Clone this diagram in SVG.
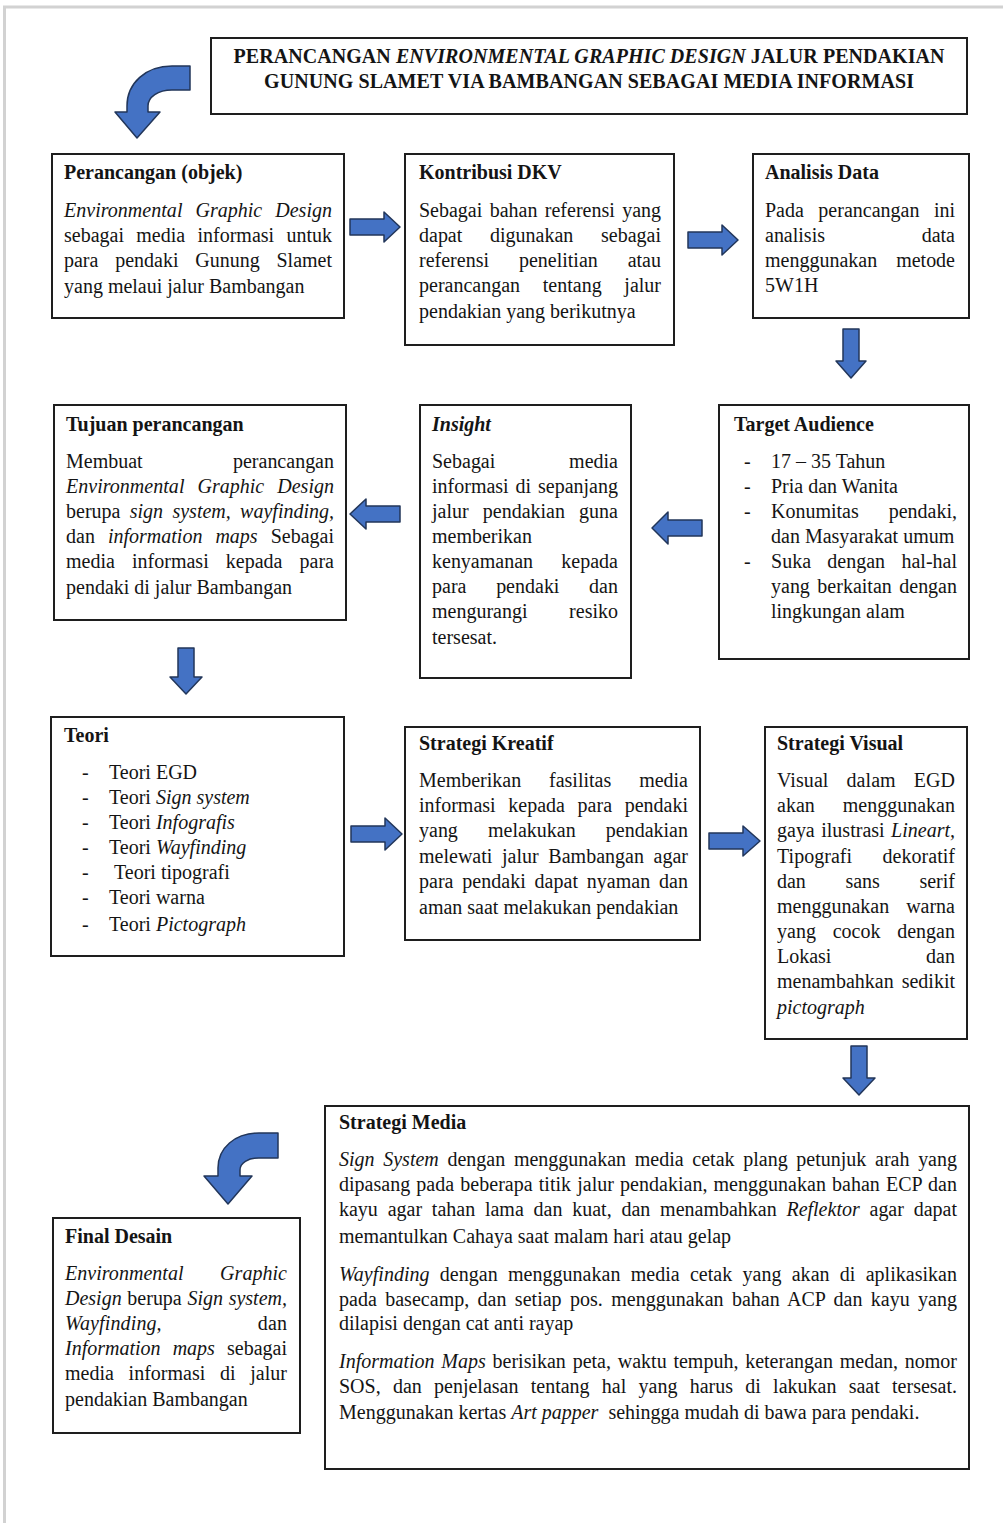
<svg xmlns="http://www.w3.org/2000/svg" width="1003" height="1523" viewBox="0 0 1003 1523">
<style>
.bg{fill:#fff}
.page{fill:none;stroke:#d2d2d2;stroke-width:3}
.box{fill:#fff;stroke:#1e1e1e;stroke-width:2}
text{font-family:"Liberation Serif","Times New Roman",serif;font-size:20px;fill:#141414}
.h{font-weight:bold}
.i{font-style:italic}
.arr{fill:#4472c4;stroke:#22365a;stroke-width:1.5;stroke-linejoin:round}
</style>
<rect class="bg" x="0" y="0" width="1003" height="1523"/>
<path class="page" d="M4.5,1523 V7 H1003"/>

<g id="title">
<rect class="box" x="211" y="38" width="756" height="76"/>
<text class="h" x="589" y="63" text-anchor="middle" textLength="711" lengthAdjust="spacing">PERANCANGAN <tspan class="i">ENVIRONMENTAL GRAPHIC DESIGN</tspan> JALUR PENDAKIAN</text>
<text class="h" x="589" y="88" text-anchor="middle" textLength="650" lengthAdjust="spacing">GUNUNG SLAMET VIA BAMBANGAN SEBAGAI MEDIA INFORMASI</text>
</g>

<g id="perancangan">
<rect class="box" x="52" y="154" width="292" height="164"/>
<text class="h" x="64" y="179">Perancangan (objek)</text>
<text x="64" y="217" class="i" word-spacing="7.9" textLength="268" lengthAdjust="spacing">Environmental Graphic Design</text>
<text x="64" y="242" word-spacing="7.3" textLength="268" lengthAdjust="spacing">sebagai media informasi untuk</text>
<text x="64" y="267" word-spacing="11.8" textLength="268" lengthAdjust="spacing">para pendaki Gunung Slamet</text>
<text x="64" y="293">yang melaui jalur Bambangan</text>
</g>

<g id="kontribusi">
<rect class="box" x="405" y="154" width="269" height="191"/>
<text class="h" x="419" y="179">Kontribusi DKV</text>
<text x="419" y="217" word-spacing="2.4" textLength="242" lengthAdjust="spacing">Sebagai bahan referensi yang</text>
<text x="419" y="242" word-spacing="22.7" textLength="242" lengthAdjust="spacing">dapat digunakan sebagai</text>
<text x="419" y="267" word-spacing="24.9" textLength="242" lengthAdjust="spacing">referensi penelitian atau</text>
<text x="419" y="292" word-spacing="17.7" textLength="242" lengthAdjust="spacing">perancangan tentang jalur</text>
<text x="419" y="318">pendakian yang berikutnya</text>
</g>

<g id="analisis">
<rect class="box" x="753" y="154" width="216" height="164"/>
<text class="h" x="765" y="179">Analisis Data</text>
<text x="765" y="217" word-spacing="9.5" textLength="190" lengthAdjust="spacing">Pada perancangan ini</text>
<text x="765" y="242" word-spacing="91.7" textLength="190" lengthAdjust="spacing">analisis data</text>
<text x="765" y="267" word-spacing="14" textLength="190" lengthAdjust="spacing">menggunakan metode</text>
<text x="765" y="292">5W1H</text>
</g>

<g id="tujuan">
<rect class="box" x="54" y="405" width="292" height="215"/>
<text class="h" x="66" y="431">Tujuan perancangan</text>
<text x="66" y="468" word-spacing="85.3" textLength="268" lengthAdjust="spacing">Membuat perancangan</text>
<text x="66" y="493" class="i" word-spacing="7.9" textLength="268" lengthAdjust="spacing">Environmental Graphic Design</text>
<text x="66" y="518" word-spacing="4.3" textLength="268" lengthAdjust="spacing">berupa <tspan class="i">sign system, wayfinding,</tspan></text>
<text x="66" y="543" word-spacing="8" textLength="268" lengthAdjust="spacing">dan <tspan class="i">information maps</tspan> Sebagai</text>
<text x="66" y="568" word-spacing="12.1" textLength="268" lengthAdjust="spacing">media informasi kepada para</text>
<text x="66" y="594">pendaki di jalur Bambangan</text>
</g>

<g id="insight">
<rect class="box" x="420" y="405" width="211" height="273"/>
<text class="h i" x="432" y="431">Insight</text>
<text x="432" y="468" word-spacing="68.8" textLength="186" lengthAdjust="spacing">Sebagai media</text>
<text x="432" y="493" word-spacing="1.9" textLength="186" lengthAdjust="spacing">informasi di sepanjang</text>
<text x="432" y="518" word-spacing="9.1" textLength="186" lengthAdjust="spacing">jalur pendakian guna</text>
<text x="432" y="543">memberikan</text>
<text x="432" y="568" word-spacing="23.3" textLength="186" lengthAdjust="spacing">kenyamanan kepada</text>
<text x="432" y="593" word-spacing="24.7" textLength="186" lengthAdjust="spacing">para pendaki dan</text>
<text x="432" y="618" word-spacing="36.6" textLength="186" lengthAdjust="spacing">mengurangi resiko</text>
<text x="432" y="644">tersesat.</text>
</g>

<g id="target">
<rect class="box" x="719" y="405" width="250" height="254"/>
<text class="h" x="734" y="431">Target Audience</text>
<text x="744" y="468">-</text>
<text x="771" y="468">17 – 35 Tahun</text>
<text x="744" y="493">-</text>
<text x="771" y="493">Pria dan Wanita</text>
<text x="744" y="518">-</text>
<text x="771" y="518" word-spacing="24.9" textLength="186" lengthAdjust="spacing">Konumitas pendaki,</text>
<text x="771" y="543">dan Masyarakat umum</text>
<text x="744" y="568">-</text>
<text x="771" y="568" word-spacing="11.3" textLength="186" lengthAdjust="spacing">Suka dengan hal-hal</text>
<text x="771" y="593" word-spacing="2.5" textLength="186" lengthAdjust="spacing">yang berkaitan dengan</text>
<text x="771" y="618">lingkungan alam</text>
</g>

<g id="teori">
<rect class="box" x="51" y="717" width="293" height="239"/>
<text class="h" x="64" y="742">Teori</text>
<text x="82" y="779">-</text>
<text x="109" y="779">Teori EGD</text>
<text x="82" y="804">-</text>
<text x="109" y="804">Teori <tspan class="i">Sign system</tspan></text>
<text x="82" y="829">-</text>
<text x="109" y="829">Teori <tspan class="i">Infografis</tspan></text>
<text x="82" y="854">-</text>
<text x="109" y="854">Teori <tspan class="i">Wayfinding</tspan></text>
<text x="82" y="879">-</text>
<text x="114" y="879">Teori tipografi</text>
<text x="82" y="904">-</text>
<text x="109" y="904">Teori warna</text>
<text x="82" y="931">-</text>
<text x="109" y="931">Teori <tspan class="i">Pictograph</tspan></text>
</g>

<g id="strategi-kreatif">
<rect class="box" x="405" y="727" width="295" height="213"/>
<text class="h" x="419" y="750">Strategi Kreatif</text>
<text x="419" y="787" word-spacing="22.9" textLength="269" lengthAdjust="spacing">Memberikan fasilitas media</text>
<text x="419" y="812" word-spacing="7.7" textLength="269" lengthAdjust="spacing">informasi kepada para pendaki</text>
<text x="419" y="837" word-spacing="25.1" textLength="269" lengthAdjust="spacing">yang melakukan pendakian</text>
<text x="419" y="863" word-spacing="4.7" textLength="269" lengthAdjust="spacing">melewati jalur Bambangan agar</text>
<text x="419" y="888" word-spacing="3.9" textLength="269" lengthAdjust="spacing">para pendaki dapat nyaman dan</text>
<text x="419" y="914">aman saat melakukan pendakian</text>
</g>

<g id="strategi-visual">
<rect class="box" x="765" y="727" width="202" height="312"/>
<text class="h" x="777" y="750">Strategi Visual</text>
<text x="777" y="787" word-spacing="12.9" textLength="178" lengthAdjust="spacing">Visual dalam EGD</text>
<text x="777" y="812" word-spacing="23" textLength="178" lengthAdjust="spacing">akan menggunakan</text>
<text x="777" y="837" word-spacing="1.5" textLength="178" lengthAdjust="spacing">gaya ilustrasi <tspan class="i">Lineart,</tspan></text>
<text x="777" y="863" word-spacing="25.3" textLength="178" lengthAdjust="spacing">Tipografi dekoratif</text>
<text x="777" y="888" word-spacing="34.6" textLength="178" lengthAdjust="spacing">dan sans serif</text>
<text x="777" y="913" word-spacing="12" textLength="178" lengthAdjust="spacing">menggunakan warna</text>
<text x="777" y="938" word-spacing="11.8" textLength="178" lengthAdjust="spacing">yang cocok dengan</text>
<text x="777" y="963" word-spacing="89.7" textLength="178" lengthAdjust="spacing">Lokasi dan</text>
<text x="777" y="988" word-spacing="3" textLength="178" lengthAdjust="spacing">menambahkan sedikit</text>
<text x="777" y="1014" class="i">pictograph</text>
</g>

<g id="strategi-media">
<rect class="box" x="325" y="1106" width="644" height="363"/>
<text class="h" x="339" y="1129">Strategi Media</text>
<text x="339" y="1166" word-spacing="3.7" textLength="618" lengthAdjust="spacing"><tspan class="i">Sign System</tspan> dengan menggunakan media cetak plang petunjuk arah yang</text>
<text x="339" y="1191" word-spacing="1.1" textLength="618" lengthAdjust="spacing">dipasang pada beberapa titik jalur pendakian, menggunakan bahan ECP dan</text>
<text x="339" y="1216" word-spacing="4.8" textLength="618" lengthAdjust="spacing">kayu agar tahan lama dan kuat, dan menambahkan <tspan class="i">Reflektor</tspan> agar dapat</text>
<text x="339" y="1243">memantulkan Cahaya saat malam hari atau gelap</text>
<text x="339" y="1281" word-spacing="5.2" textLength="618" lengthAdjust="spacing"><tspan class="i">Wayfinding</tspan> dengan menggunakan media cetak yang akan di aplikasikan</text>
<text x="339" y="1306" word-spacing="3.3" textLength="618" lengthAdjust="spacing">pada basecamp, dan setiap pos. menggunakan bahan ACP dan kayu yang</text>
<text x="339" y="1330">dilapisi dengan cat anti rayap</text>
<text x="339" y="1368" word-spacing="1.8" textLength="618" lengthAdjust="spacing"><tspan class="i">Information Maps</tspan> berisikan peta, waktu tempuh, keterangan medan, nomor</text>
<text x="339" y="1393" word-spacing="7.3" textLength="618" lengthAdjust="spacing">SOS, dan penjelasan tentang hal yang harus di lakukan saat tersesat.</text>
<text x="339" y="1419" style="white-space:pre">Menggunakan kertas <tspan class="i">Art papper</tspan>  sehingga mudah di bawa para pendaki.</text>
</g>

<g id="final-desain">
<rect class="box" x="53" y="1218" width="247" height="215"/>
<text class="h" x="65" y="1243">Final Desain</text>
<text x="65" y="1280" class="i" word-spacing="31.5" textLength="222" lengthAdjust="spacing">Environmental Graphic</text>
<text x="65" y="1305" word-spacing="0.7" textLength="222" lengthAdjust="spacing"><tspan class="i">Design</tspan> berupa <tspan class="i">Sign system,</tspan></text>
<text x="65" y="1330" word-spacing="91" textLength="222" lengthAdjust="spacing"><tspan class="i">Wayfinding,</tspan> dan</text>
<text x="65" y="1355" word-spacing="7.1" textLength="222" lengthAdjust="spacing"><tspan class="i">Information maps</tspan> sebagai</text>
<text x="65" y="1380" word-spacing="9.7" textLength="222" lengthAdjust="spacing">media informasi di jalur</text>
<text x="65" y="1406">pendakian Bambangan</text>
</g>

<g id="connectors">
<path class="arr" d="M190,66 L172,66 C146,66 127,83 127,106 L127,112 L115,112 L137,138 L160,112 L148,112 L148,106 C148,97 158,90 172,90 L190,90 Z"/>
<polygon class="arr" points="350,219 384,219 384,212 400,227 384,242 384,235 350,235"/>
<polygon class="arr" points="688,232 722,232 722,225 738,240 722,255 722,248 688,248"/>
<polygon class="arr" points="843,329 859,329 859,361 866,361 851,378 836,361 843,361"/>
<polygon class="arr" points="702,520 668,520 668,512 652,528 668,544 668,536 702,536"/>
<polygon class="arr" points="400,506 366,506 366,499 350,514 366,529 366,522 400,522"/>
<polygon class="arr" points="178,648 194,648 194,677 202,677 186,694 170,677 178,677"/>
<polygon class="arr" points="351,826 385,826 385,818 402,834 385,850 385,842 351,842"/>
<polygon class="arr" points="709,833 743,833 743,826 760,841 743,856 743,849 709,849"/>
<polygon class="arr" points="851,1046 867,1046 867,1078 875,1078 859,1095 843,1078 851,1078"/>
<path class="arr" d="M278,1133 L259,1133 C235,1133 218,1148 218,1168 L218,1176 L204,1176 L228,1204 L252,1176 L240,1176 L240,1170 C240,1163 248,1158 259,1158 L278,1158 Z"/>
</g>
</svg>
